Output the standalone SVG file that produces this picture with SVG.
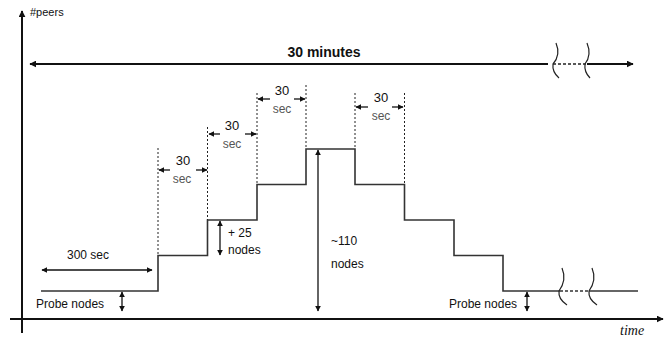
<svg xmlns="http://www.w3.org/2000/svg" width="671" height="338" viewBox="0 0 671 338">
<style>
text{font-family:"Liberation Sans",Arial,sans-serif;fill:#111}
.t12{font-size:12px}
.t30{font-size:13px}
.sec{font-size:12px;fill:#555}
.ax{stroke:#111;stroke-width:2;fill:none}
.step{stroke:#333;stroke-width:1.6;fill:none}
.dot{stroke:#222;stroke-width:1;stroke-dasharray:2,2;fill:none}
.dim{stroke:#111;stroke-width:1.3;fill:none}
.brk{stroke:#222;stroke-width:1.2;fill:none}
</style>
<defs>
<marker id="ah" viewBox="0 0 10 10" refX="9" refY="5" markerWidth="7" markerHeight="7" orient="auto-start-reverse" markerUnits="userSpaceOnUse">
<path d="M0,0 L10,5 L0,10 z" fill="#111"/>
</marker>
<marker id="ahs" viewBox="0 0 10 10" refX="9" refY="5" markerWidth="6" markerHeight="6" orient="auto-start-reverse" markerUnits="userSpaceOnUse">
<path d="M0,0 L10,5 L0,10 z" fill="#111"/>
</marker>
</defs>

<g id="axes">
<line class="ax" x1="22" y1="333" x2="22" y2="11" marker-end="url(#ah)"/>
<line class="ax" x1="10" y1="319" x2="663" y2="319" marker-end="url(#ah)"/>
<text x="30" y="16" style="font-size:11px">#peers</text>
<text x="620" y="335" style="font-family:'Liberation Serif','Times New Roman',serif;font-style:italic;font-size:14px">time</text>
</g>

<g id="duration">
<line class="ax" x1="30" y1="64" x2="548" y2="64" marker-start="url(#ah)"/>
<line x1="553" y1="64" x2="586" y2="64" stroke="#222" stroke-width="1.5" stroke-dasharray="3,2"/>
<line class="ax" x1="587" y1="64" x2="633" y2="64" marker-end="url(#ah)"/>
<path class="brk" d="M556,43 Q561,55 553,64 Q552,72 559,78"/>
<path class="brk" d="M587,43 Q592,55 585,64 Q584,72 590,78"/>
<text x="324" y="57" text-anchor="middle" style="font-size:14px;font-weight:bold">30 minutes</text>
</g>

<g id="steps">
<path class="step" d="M41,291 H158 V255.5 H207.5 V220 H257 V184.5 H306 V149 H355 V184.5 H404.5 V220 H454 V255.5 H503 V291 H560"/>
<line x1="560" y1="291" x2="589" y2="291" stroke="#333" stroke-width="1.3" stroke-dasharray="3,2"/>
<line class="step" x1="589" y1="291" x2="638" y2="291"/>
<path class="brk" d="M562,268 Q567,280 559,291 Q558,299 567,305"/>
<path class="brk" d="M592,268 Q597,280 589,291 Q588,299 597,305"/>
</g>

<g id="guides">
<line class="dot" x1="158" y1="148" x2="158" y2="255"/>
<line class="dot" x1="207.5" y1="127" x2="207.5" y2="220"/>
<line class="dot" x1="257" y1="93" x2="257" y2="184"/>
<line class="dot" x1="306" y1="85" x2="306" y2="149"/>
<line class="dot" x1="355" y1="93" x2="355" y2="149"/>
<line class="dot" x1="404.5" y1="93" x2="404.5" y2="184"/>
</g>

<g id="connectors">
<line class="dim" x1="170" y1="170" x2="159" y2="170" marker-end="url(#ahs)"/>
<line class="dim" x1="196" y1="170" x2="207" y2="170" marker-end="url(#ahs)"/>
<line class="dim" x1="220" y1="134" x2="209" y2="134" marker-end="url(#ahs)"/>
<line class="dim" x1="245" y1="134" x2="256" y2="134" marker-end="url(#ahs)"/>
<line class="dim" x1="270" y1="99" x2="258" y2="99" marker-end="url(#ahs)"/>
<line class="dim" x1="294" y1="99" x2="305" y2="99" marker-end="url(#ahs)"/>
<line class="dim" x1="368" y1="107" x2="356" y2="107" marker-end="url(#ahs)"/>
<line class="dim" x1="392" y1="107" x2="403" y2="107" marker-end="url(#ahs)"/>
<line class="dim" x1="42" y1="270" x2="152" y2="270" marker-start="url(#ahs)" marker-end="url(#ahs)"/>
<line class="dim" x1="122" y1="292" x2="122" y2="311" marker-start="url(#ahs)" marker-end="url(#ahs)"/>
<line class="dim" x1="527" y1="292" x2="527" y2="311" marker-start="url(#ahs)" marker-end="url(#ahs)"/>
<line class="dim" x1="220" y1="221" x2="220" y2="255" marker-start="url(#ahs)" marker-end="url(#ahs)"/>
<line class="dim" x1="318" y1="150" x2="318" y2="311" marker-start="url(#ahs)" marker-end="url(#ahs)"/>
</g>

<g id="labels">
<text x="183" y="165" text-anchor="middle" class="t30">30</text>
<text x="182" y="183" text-anchor="middle" class="sec">sec</text>
<text x="232" y="130" text-anchor="middle" class="t30">30</text>
<text x="232" y="148" text-anchor="middle" class="sec">sec</text>
<text x="282" y="95" text-anchor="middle" class="t30">30</text>
<text x="282" y="113" text-anchor="middle" class="sec">sec</text>
<text x="381" y="102" text-anchor="middle" class="t30">30</text>
<text x="381" y="120" text-anchor="middle" class="sec">sec</text>
<text x="88" y="259" text-anchor="middle" class="t12">300 sec</text>
<text x="36" y="308" class="t12">Probe nodes</text>
<text x="449" y="308" class="t12">Probe nodes</text>
<text x="228" y="237" class="t12">+ 25</text>
<text x="228" y="254" class="t12">nodes</text>
<text x="331" y="245" class="t12">~110</text>
<text x="331" y="268" class="t12">nodes</text>
</g>
</svg>
